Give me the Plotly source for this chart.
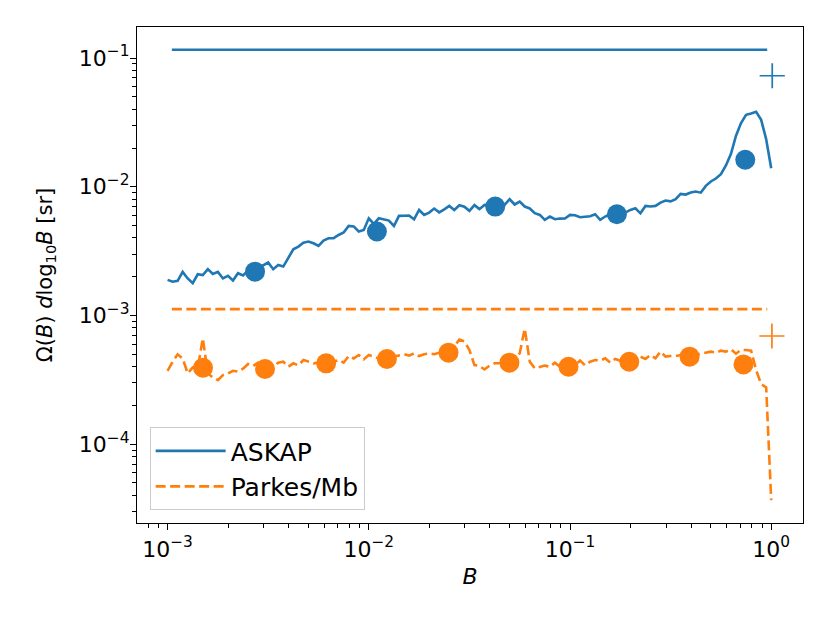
""" Solid angle per log bin of beam response, ASKAP vs Parkes/Mb """
import numpy as np
import plotly.graph_objects as go

BLUE = '#1f77b4'
ORANGE = '#ff7f0e'

# beam response grid (uniform bins in log B, 1e-3 .. 1)
B_grid = np.logspace(-3, 0, 121)

askap_curve = [
    1.89e-3, 1.83e-3, 1.86e-3, 2.18e-3, 1.94e-3, 1.78e-3, 2.09e-3, 2.06e-3, 2.29e-3, 2.10e-3,
    2.18e-3, 1.94e-3, 2.03e-3, 1.87e-3, 2.13e-3, 2.05e-3, 2.23e-3, 2.23e-3, 2.33e-3, 2.47e-3,
    2.58e-3, 2.29e-3, 2.47e-3, 2.40e-3, 2.78e-3, 3.27e-3, 3.43e-3, 3.68e-3, 3.75e-3, 3.64e-3,
    3.47e-3, 3.82e-3, 3.98e-3, 3.99e-3, 4.22e-3, 4.41e-3, 4.96e-3, 4.92e-3, 4.49e-3, 4.62e-3,
    5.69e-3, 5.14e-3, 5.69e-3, 5.59e-3, 5.46e-3, 4.96e-3, 5.94e-3, 5.96e-3, 5.98e-3, 5.59e-3,
    6.60e-3, 6.04e-3, 6.30e-3, 6.77e-3, 6.33e-3, 6.68e-3, 7.09e-3, 6.60e-3, 7.19e-3, 7.00e-3,
    6.50e-3, 7.20e-3, 6.70e-3, 7.23e-3, 7.10e-3, 7.02e-3, 7.36e-3, 7.23e-3, 8.00e-3, 7.28e-3,
    7.67e-3, 7.02e-3, 6.78e-3, 6.23e-3, 6.04e-3, 5.53e-3, 5.87e-3, 5.60e-3, 5.66e-3, 5.67e-3,
    6.04e-3, 6.00e-3, 5.80e-3, 5.87e-3, 5.90e-3, 6.12e-3, 5.53e-3, 5.87e-3, 6.13e-3, 6.22e-3,
    6.22e-3, 6.30e-3, 6.61e-3, 6.81e-3, 6.22e-3, 7.10e-3, 7.02e-3, 7.10e-3, 7.53e-3, 7.81e-3,
    7.70e-3, 8.00e-3, 8.81e-3, 8.70e-3, 9.02e-3, 9.18e-3, 9.00e-3, 1.016e-2, 1.099e-2, 1.159e-2,
    1.253e-2, 1.462e-2, 1.802e-2, 2.49e-2, 3.12e-2, 3.62e-2, 3.71e-2, 3.82e-2, 3.31e-2, 2.34e-2,
    1.394e-2,
]

parkes_curve = [
    3.72e-4, 4.37e-4, 4.99e-4, 4.64e-4, 3.55e-4, 3.95e-4, 3.88e-4, 6.64e-4, 3.55e-4, 3.30e-4,
    3.15e-4, 3.44e-4, 3.55e-4, 3.72e-4, 3.66e-4, 3.86e-4, 4.20e-4, 4.05e-4, 4.30e-4, 3.88e-4,
    3.77e-4, 4.00e-4, 4.30e-4, 4.37e-4, 4.00e-4, 4.25e-4, 4.10e-4, 4.51e-4, 4.35e-4, 4.25e-4,
    4.30e-4, 4.25e-4, 4.30e-4, 4.37e-4, 4.51e-4, 4.30e-4, 4.84e-4, 4.64e-4, 4.93e-4, 4.56e-4,
    4.93e-4, 4.79e-4, 4.64e-4, 4.60e-4, 4.70e-4, 4.79e-4, 4.95e-4, 5.00e-4, 4.88e-4, 5.08e-4,
    4.84e-4, 5.00e-4, 5.08e-4, 5.00e-4, 5.14e-4, 5.20e-4, 5.22e-4, 5.73e-4, 6.50e-4, 6.30e-4,
    5.40e-4, 4.12e-4, 4.05e-4, 3.81e-4, 4.08e-4, 4.25e-4, 4.25e-4, 4.30e-4, 4.25e-4, 4.65e-4,
    5.08e-4, 7.90e-4, 4.38e-4, 3.88e-4, 4.00e-4, 4.08e-4, 4.00e-4, 4.30e-4, 4.00e-4, 4.10e-4,
    4.00e-4, 4.10e-4, 4.46e-4, 4.10e-4, 4.38e-4, 4.51e-4, 4.46e-4, 4.65e-4, 4.30e-4, 4.60e-4,
    4.46e-4, 4.38e-4, 4.38e-4, 4.51e-4, 4.79e-4, 4.60e-4, 4.93e-4, 4.65e-4, 5.24e-4, 4.79e-4,
    4.84e-4, 4.84e-4, 4.93e-4, 4.79e-4, 4.84e-4, 4.93e-4, 5.08e-4, 5.15e-4, 5.24e-4, 5.15e-4,
    5.33e-4, 5.24e-4, 5.46e-4, 5.05e-4, 5.40e-4, 5.40e-4, 5.33e-4, 3.77e-4, 2.93e-4, 2.76e-4,
    3.67e-5,
]

# binned points
askap_pts_B = [2.72e-3, 1.097e-2, 4.25e-2, 0.171, 0.743]
askap_pts = [2.19e-3, 4.49e-3, 7.01e-3, 6.12e-3, 1.62e-2]
parkes_pts_B = [1.50e-3, 3.05e-3, 6.14e-3, 1.23e-2, 2.49e-2, 5.00e-2, 9.83e-2, 0.197, 0.393, 0.728]
parkes_pts = [3.93e-4, 3.84e-4, 4.25e-4, 4.59e-4, 5.14e-4, 4.30e-4, 4.00e-4, 4.37e-4, 4.79e-4, 4.17e-4]

# total field of view (flat lines) and single value at B=1
flat_B = [1.05e-3, 0.955]
askap_total = 0.116
parkes_total = 1.12e-3
plus_B = [1.012, 1.008]
plus_vals = [7.28e-2, 6.93e-4]

x_major = [1e-3, 1e-2, 1e-1, 1]
x_major_txt = ['10<sup>\u22123</sup>', '10<sup>\u22122</sup>', '10<sup>\u22121</sup>', '10<sup>0</sup>']
y_major = [1e-4, 1e-3, 1e-2, 1e-1]
y_major_txt = ['10<sup>\u22124</sup>', '10<sup>\u22123</sup>', '10<sup>\u22122</sup>', '10<sup>\u22121</sup>']


def minor_vals(lo, hi):
    return [k * 10.0**e for e in range(lo, hi) for k in range(2, 10)]


fig = go.Figure()

fig.add_trace(go.Scatter(x=flat_B, y=[askap_total]*2, mode='lines', name='ASKAP',
                         line={'color': BLUE, 'width': 2.6}))
fig.add_trace(go.Scatter(x=flat_B, y=[parkes_total]*2, mode='lines', name='Parkes/Mb',
                         line={'color': ORANGE, 'width': 2.6, 'dash': '10px,4.5px'}))
fig.add_trace(go.Scatter(x=B_grid, y=askap_curve, mode='lines', showlegend=False,
                         line={'color': BLUE, 'width': 2.6}))
fig.add_trace(go.Scatter(x=B_grid, y=parkes_curve, mode='lines', showlegend=False,
                         line={'color': ORANGE, 'width': 2.6, 'dash': '10px,4.5px'}))
fig.add_trace(go.Scatter(x=askap_pts_B, y=askap_pts, mode='markers', showlegend=False,
                         marker={'color': BLUE, 'size': 20}))
fig.add_trace(go.Scatter(x=parkes_pts_B, y=parkes_pts, mode='markers', showlegend=False,
                         marker={'color': ORANGE, 'size': 20}))
fig.add_trace(go.Scatter(x=plus_B, y=plus_vals, mode='markers', showlegend=False,
                         marker={'symbol': 'cross-thin', 'size': 18,
                                 'color': [BLUE, ORANGE],
                                 'line': {'color': [BLUE, ORANGE], 'width': 1.7}}))

axis_common = dict(
    type='log', showgrid=False, zeroline=False, automargin=False,
    showline=True, linecolor='black', linewidth=1.3, mirror=True,
    ticks='outside', ticklen=6, tickwidth=1.3, tickcolor='black',
    tickmode='array', tickfont={'size': 22, 'color': 'black'},
)

# page body adds an 8px offset, margins compensate for it
fig.update_layout(
    width=830, height=623,
    margin={'l': 129, 'r': 35, 't': 19, 'b': 108},
    paper_bgcolor='white', plot_bgcolor='white',
    font={'family': 'DejaVu Sans', 'color': 'black'},
    xaxis=dict(axis_common, range=[-3.152, 0.158],
               tickvals=x_major, ticktext=x_major_txt,
               minor={'tickmode': 'array', 'tickvals': minor_vals(-4, 1), 'ticks': 'outside',
                      'ticklen': 3.5, 'tickwidth': 1, 'tickcolor': 'black', 'showgrid': False},
               title={'text': '<i>B</i>', 'font': {'size': 22}, 'standoff': 8}),
    yaxis=dict(axis_common, range=[-4.612, -0.759],
               tickvals=y_major, ticktext=y_major_txt, ticklabelstandoff=-4,
               minor={'tickmode': 'array', 'tickvals': minor_vals(-5, 0), 'ticks': 'outside',
                      'ticklen': 3.5, 'tickwidth': 1, 'tickcolor': 'black', 'showgrid': False},
               title={'text': '\u03a9(<i>B</i>) <i>d</i>log<sub>10</sub><i>B</i> [sr]',
                      'font': {'size': 21}, 'standoff': 20}),
    legend={'x': 0.019, 'y': 0.026, 'xanchor': 'left', 'yanchor': 'bottom',
            'bgcolor': 'rgba(255,255,255,0.8)', 'bordercolor': '#cccccc', 'borderwidth': 1,
            'font': {'size': 25}, 'itemwidth': 70},
)

fig.write_html("out.html")
